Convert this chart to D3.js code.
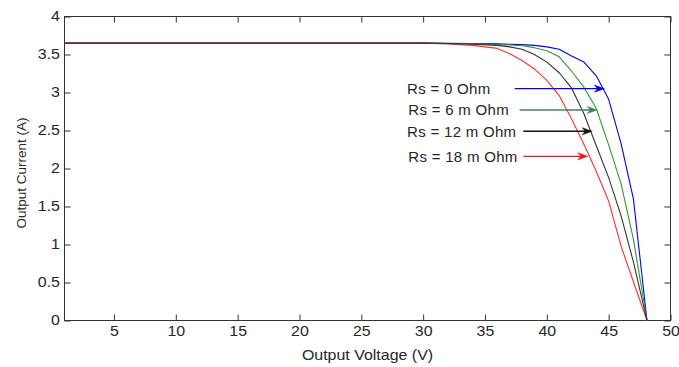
<!DOCTYPE html>
<html>
<head>
<meta charset="utf-8">
<script src="https://cdn.jsdelivr.net/npm/d3@7"></script>
<style>
  html, body { margin: 0; padding: 0; background: #fff; }
  svg { display: block; }
  text { font-family: "Liberation Sans", Arial, sans-serif; fill: #262626; }
</style>
</head>
<body>
<svg id="chart" width="679" height="367"></svg>
<script>
// ---- Data ----
const voltage = [1, 5, 10, 15, 20, 25, 30, 32, 34, 36, 37, 38, 39, 40, 41, 42, 43, 44, 45, 46, 47, 48.1];
const currentRs0  = [3.65, 3.65, 3.65, 3.65, 3.65, 3.65, 3.65, 3.648, 3.645, 3.64, 3.635, 3.63, 3.62, 3.60, 3.57, 3.48, 3.40, 3.22, 2.91, 2.33, 1.60, 0];
const currentRs6  = [3.65, 3.65, 3.65, 3.65, 3.65, 3.65, 3.65, 3.645, 3.64, 3.63, 3.625, 3.615, 3.59, 3.55, 3.47, 3.28, 3.07, 2.79, 2.31, 1.80, 1.07, 0];
const currentRs12 = [3.65, 3.65, 3.65, 3.65, 3.65, 3.65, 3.65, 3.645, 3.635, 3.62, 3.60, 3.57, 3.50, 3.40, 3.26, 3.06, 2.72, 2.30, 1.88, 1.38, 0.77, 0];
const currentRs18 = [3.65, 3.65, 3.65, 3.65, 3.65, 3.65, 3.65, 3.64, 3.62, 3.58, 3.51, 3.42, 3.31, 3.16, 2.96, 2.65, 2.32, 1.96, 1.57, 0.98, 0.51, 0];

const seriesNames = ["Rs = 0 Ohm", "Rs = 6 m Ohm", "Rs = 12 m Ohm", "Rs = 18 m Ohm"];
const seriesColors = ["#0000ff", "#2e9a2e", "#333333", "#ff3030"];
const arrowColors = ["#0000ff", "#3f8060", "#111111", "#ff1010"];
// annotation: text start voltage, arrow start voltage, arrow tip (voltage, current)
const labelV = [28.7, 28.8, 28.7, 28.8];
const arrowStartV = [37.4, 37.8, 38.1, 38.1];
const arrowTipV = [44.66, 44.07, 43.67, 43.31];
const arrowTipI = [3.05, 2.77, 2.49, 2.16];

const xTicks = [5, 10, 15, 20, 25, 30, 35, 40, 45, 50];
const yTicks = [0, 0.5, 1, 1.5, 2, 2.5, 3, 3.5, 4];
const yTickLabels = ["0", "0.5", "1", "1.5", "2", "2.5", "3", "3.5", "4"];

// ---- Layout ----
const svg = d3.select("#chart");
const pLeft = 64.5, pRight = 670.5, pTop = 16.5, pBottom = 320.5;
const x = d3.scaleLinear().domain([1, 50]).range([pLeft, pRight]);
const y = d3.scaleLinear().domain([0, 4]).range([pBottom, pTop]);
const stretch = 1.14; // reference text is slightly widened horizontally

// frame
svg.append("rect")
  .attr("x", pLeft).attr("y", pTop)
  .attr("width", pRight - pLeft).attr("height", pBottom - pTop)
  .attr("fill", "none").attr("stroke", "#333").attr("stroke-width", 1);

const tickLen = 6;
// bottom axis (ticks inside)
const xAxisB = svg.append("g").attr("transform", `translate(0,${pBottom})`)
  .call(d3.axisBottom(x).tickValues(xTicks).tickSizeInner(-tickLen).tickSizeOuter(0).tickPadding(6)
    .tickFormat(d3.format("d")));
xAxisB.select(".domain").remove();
xAxisB.selectAll("line").attr("stroke", "#333");
xAxisB.selectAll("text").attr("font-size", 14).attr("fill", "#262626")
  .attr("transform", `scale(${stretch},1)`)
  .style("font-family", "'Liberation Sans', Arial, sans-serif");

// top mirror ticks
const xAxisT = svg.append("g").attr("transform", `translate(0,${pTop})`)
  .call(d3.axisTop(x).tickValues(xTicks).tickSizeInner(-tickLen).tickSizeOuter(0).tickFormat(""));
xAxisT.select(".domain").remove();
xAxisT.selectAll("line").attr("stroke", "#333");

// left axis
const yAxisL = svg.append("g").attr("transform", `translate(${pLeft},0)`)
  .call(d3.axisLeft(y).tickValues(yTicks).tickSizeInner(-tickLen).tickSizeOuter(0).tickPadding(4)
    .tickFormat((d, i) => yTickLabels[i]));
yAxisL.select(".domain").remove();
yAxisL.selectAll("line").attr("stroke", "#333");
yAxisL.selectAll("text").attr("font-size", 14).attr("fill", "#262626")
  .attr("transform", `scale(${stretch},1)`)
  .style("font-family", "'Liberation Sans', Arial, sans-serif");

// right mirror ticks
const yAxisR = svg.append("g").attr("transform", `translate(${pRight},0)`)
  .call(d3.axisRight(y).tickValues(yTicks).tickSizeInner(-tickLen).tickSizeOuter(0).tickFormat(""));
yAxisR.select(".domain").remove();
yAxisR.selectAll("line").attr("stroke", "#333");

// axis labels
svg.append("text")
  .attr("transform", `translate(${(pLeft + pRight) / 2},360) scale(${stretch},1)`)
  .attr("text-anchor", "middle").attr("font-size", 14)
  .text("Output Voltage (V)");
svg.append("text")
  .attr("transform", `translate(26,173) rotate(-90)`)
  .attr("text-anchor", "middle").attr("font-size", 13.5)
  .text("Output Current (A)");

// curves
const allCurrents = [currentRs0, currentRs6, currentRs12, currentRs18];
const line = d3.line().x(d => x(d[0])).y(d => y(d[1]));
const drawOrder = [0, 1, 3, 2];
drawOrder.forEach(i => {
  const pts = voltage.map((v, k) => [v, allCurrents[i][k]]);
  svg.append("path")
    .attr("d", line(pts))
    .attr("fill", "none")
    .attr("stroke", seriesColors[i])
    .attr("stroke-width", 1.1)
    .attr("stroke-linejoin", "round");
});

// annotations
seriesNames.forEach((name, i) => {
  const yy = y(arrowTipI[i]);
  svg.append("text")
    .attr("x", x(labelV[i])).attr("y", yy)
    .attr("dy", "0.36em")
    .attr("font-size", 15)
    .attr("letter-spacing", 0.3)
    .attr("fill", "#222")
    .text(name);
  const x0 = x(arrowStartV[i]), x1 = x(arrowTipV[i]);
  const headL = 10, headW = 3.6, notch = 3;
  svg.append("line")
    .attr("x1", x0).attr("y1", yy).attr("x2", x1 - headL + notch).attr("y2", yy)
    .attr("stroke", arrowColors[i]).attr("stroke-width", 1.3);
  svg.append("path")
    .attr("d", `M${x1},${yy} L${x1 - headL},${yy - headW} L${x1 - headL + notch},${yy} L${x1 - headL},${yy + headW} Z`)
    .attr("fill", arrowColors[i]).attr("stroke", arrowColors[i]).attr("stroke-width", 0.5);
});
</script>
</body>
</html>
